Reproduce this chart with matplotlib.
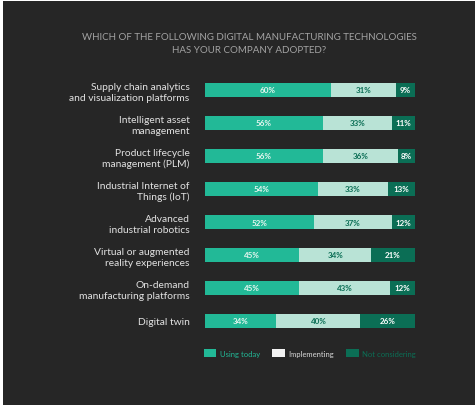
import matplotlib
matplotlib.use("Agg")
import matplotlib.pyplot as plt
from matplotlib.patches import Rectangle, Patch

plt.rcParams['font.family'] = ['Lato', 'DejaVu Sans']

categories = [
    "Supply chain analytics\nand visualization platforms",
    "Intelligent asset\nmanagement",
    "Product lifecycle\nmanagement (PLM)",
    "Industrial Internet of\nThings (IoT)",
    "Advanced\nindustrial robotics",
    "Virtual or augmented\nreality experiences",
    "On-demand\nmanufacturing platforms",
    "Digital twin",
]
using_today = [60, 56, 56, 54, 52, 45, 45, 34]
implementing = [31, 33, 36, 33, 37, 34, 43, 40]
not_considering = [9, 11, 8, 13, 12, 21, 12, 26]
series_names = ["Using today", "Implementing", "Not considering"]

title = "WHICH OF THE FOLLOWING DIGITAL MANUFACTURING TECHNOLOGIES\nHAS YOUR COMPANY ADOPTED?"

BG = "#262626"
C_USE = "#22b997"
C_IMP = "#b9e3d6"
C_NOT = "#0b6e55"

W, H = 477, 406
fig = plt.figure(figsize=(W / 100, H / 100), dpi=100, facecolor="white")
fig.patches.append(Rectangle((3 / W, 0), 472 / W, 1 - 2 / H, transform=fig.transFigure,
                             facecolor=BG, edgecolor="none", zorder=-10))

top_px, bot_px = 74.5, 338.5
ax = fig.add_axes([205 / W, 1 - bot_px / H, 210 / W, (bot_px - top_px) / H])
ax.set_facecolor("none")

y = list(range(len(categories)))
series = [using_today, implementing, not_considering]
colors = [C_USE, C_IMP, C_NOT]
txt_colors = ["#e6f6f0", "#0b6e55", "#ffffff"]
left = [0] * len(categories)
for vals, col, tc in zip(series, colors, txt_colors):
    bars = ax.barh(y, vals, left=left, height=0.40, color=col, edgecolor="none")
    labels = [f"{v}%" for v in vals]
    ax.bar_label(bars, labels=labels, label_type="center", color=tc,
                 fontsize=5.8, fontweight="bold")
    left = [l + v for l, v in zip(left, vals)]

ax.set_xlim(0, 100)
ax.set_ylim(len(categories) - 0.5, -0.5)
ax.set_yticks(y)
ax.set_yticklabels(categories, fontsize=7.4, color="#e2e2e2", linespacing=1.25)
ax.tick_params(axis="y", length=0, pad=11)
ax.set_xticks([])
for s in ax.spines.values():
    s.set_visible(False)

fig.text(249 / W, 1 - 44 / H, title, ha="center", va="center", fontsize=7.0,
         color="#a3a3a3", linespacing=1.5)

handles = [Patch(facecolor=C_USE, edgecolor="none"),
           Patch(facecolor="#f2f2f2", edgecolor="none"),
           Patch(facecolor=C_NOT, edgecolor="none")]
leg = fig.legend(handles, series_names, loc="center", bbox_to_anchor=(310 / W, 1 - 354 / H),
                 ncol=3, frameon=False, fontsize=5.5, handlelength=1.6, handleheight=1.1,
                 handletextpad=0.5, columnspacing=1.6,
                 labelcolor=[C_USE, "#d8d8d8", C_NOT])

fig.savefig("out.png", dpi=100, facecolor=fig.get_facecolor())
